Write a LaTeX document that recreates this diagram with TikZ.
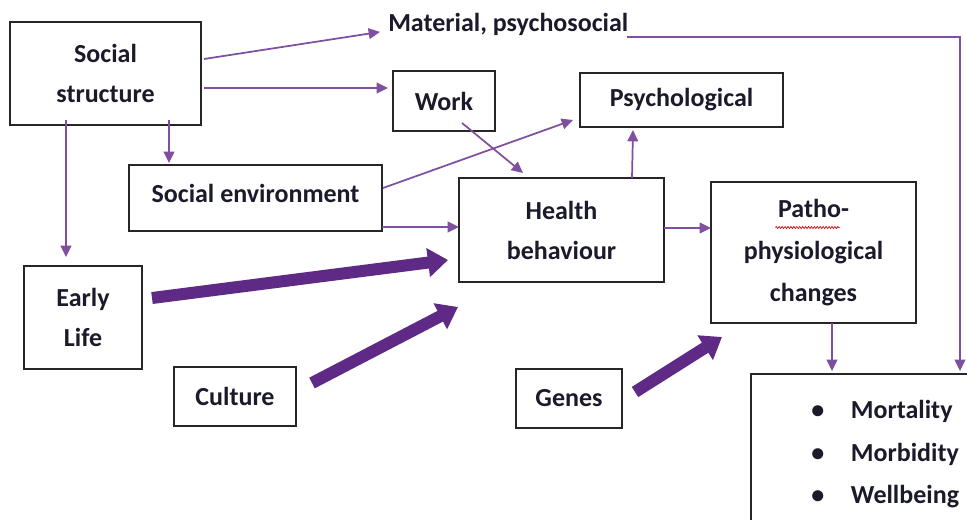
\documentclass[tikz,border=0pt]{standalone}
\usepackage{fontspec}
\setmainfont{Carlito}
\usetikzlibrary{arrows.meta,calc,decorations.pathmorphing}
\definecolor{thinpurple}{HTML}{7F4FA0}
\definecolor{thickpurple}{HTML}{5E2A86}
\definecolor{boxline}{HTML}{262626}
\definecolor{txt}{HTML}{1A1A2A}
\tikzset{
  box/.style={draw=boxline, line width=1.4pt, align=center, inner sep=0pt,
    font=\bfseries\fontsize{19.5pt}{30pt}\selectfont, text=txt},
  lbl/.style={inner sep=0pt, font=\bfseries\fontsize{19.5pt}{30pt}\selectfont, text=txt},
  thin/.style={draw=thinpurple, line width=1.3pt, -{Triangle[length=8.5pt,width=8pt]}},
  thick/.style={draw=thickpurple, line width=9pt, -{Triangle[length=15pt,width=21pt]}},
}
\begin{document}
\begin{tikzpicture}[x=0.75pt,y=-0.75pt]
\useasboundingbox (0,0) rectangle (967,519);
\clip (0,0) rectangle (967,519);
\fill[white] (0,0) rectangle (967,519);
% boxes
\node[box, minimum width=143.25pt, minimum height=77.25pt] (ss) at (105.5,73.5) {Social\\structure};
\node[box, minimum width=76.5pt, minimum height=45pt] (work) at (444,101) {Work};
\node[box, minimum width=189.75pt, minimum height=49.5pt, text depth=7pt] (senv) at (255.5,198) {Social environment};
\node[box, minimum width=153.75pt, minimum height=78pt] (health) at (561.5,230) {Health\\behaviour};
\node[box, minimum width=152.25pt, minimum height=40.5pt] (psych) at (681.5,100) {Psychological};
\node[box, minimum width=153.75pt, minimum height=105.75pt, font=\bfseries\fontsize{19.5pt}{31.5pt}\selectfont] (patho) at (813.5,252.5) {Patho-\\physiological\\changes};
\node[box, minimum width=88.5pt, minimum height=77.25pt] (early) at (83,317.5) {Early\\Life};
\node[box, minimum width=91.5pt, minimum height=44.25pt] (culture) at (235,396.5) {Culture};
\node[box, minimum width=79.5pt, minimum height=44.25pt] (genes) at (569,398.5) {Genes};
\node[box, minimum width=171.75pt, minimum height=117pt] (out) at (865.5,452) {};
\node[lbl, anchor=west, align=left] (outlist) at (811,453) {%
  \begin{tabular}{@{}l@{\hspace{20pt}}l@{}}
  \textbullet & Mortality\\[2pt]
  \textbullet & Morbidity\\[2pt]
  \textbullet & Wellbeing
  \end{tabular}};
\node[lbl, anchor=base west] (mat) at (388,31) {Material, psychosocial};
% spell-check squiggle
\draw[red!85!black, line width=0.5pt, decorate, decoration={zigzag, segment length=2.2pt, amplitude=0.8pt}]
  ($(patho.center)+(-38,-25)$) -- ($(patho.center)+(26,-25)$);
% thin connectors
\draw[thin] ($(ss.center)+(98.5,-14.5)$) -- ($(mat.west)+(-8,8)$);
\draw[thin] ($(ss.center)+(98.5,14.5)$) -- ($(work.center)+(-56,-13)$);
\draw[thin] ($(ss.center)+(63.5,46.5)$) -- ($(senv.center)+(-86.5,-35)$);
\draw[thin] ($(ss.center)+(-39.5,46.5)$) -- ($(early.center)+(-17,-60.5)$);
\draw[thin] ($(senv.center)+(127.5,-10)$) -- ($(psych.center)+(-108.5,20)$);
\draw[thin] ($(work.center)+(18,22)$) -- ($(health.center)+(-38.5,-57)$);
\draw[thin] ($(senv.center)+(126.5,29)$) -- ($(health.center)+(-102.5,-3)$);
\draw[thin] ($(health.center)+(70.5,-52)$) -- ($(psych.center)+(-48.5,30)$);
\draw[thin] ($(health.center)+(102.5,-2)$) -- ($(patho.center)+(-102.5,-24.5)$);
\draw[thin] ($(patho.center)+(18.5,70.5)$) -- ($(out.north)+(-33.5,-2)$);
\draw[thin] ($(mat.south east)+(-2,2)$) -| ($(out.north)+(94.5,-2)$);
% thick connectors
\draw[thick] ($(early.center)+(69,-19.5)$) -- ($(health.center)+(-113.5,30)$);
\draw[thick] ($(culture.center)+(77,-13.5)$) -- ($(health.center)+(-103.5,77)$);
\draw[thick] ($(genes.center)+(66,-6.5)$) -- ($(patho.center)+(-91.5,84.5)$);
\end{tikzpicture}
\end{document}
